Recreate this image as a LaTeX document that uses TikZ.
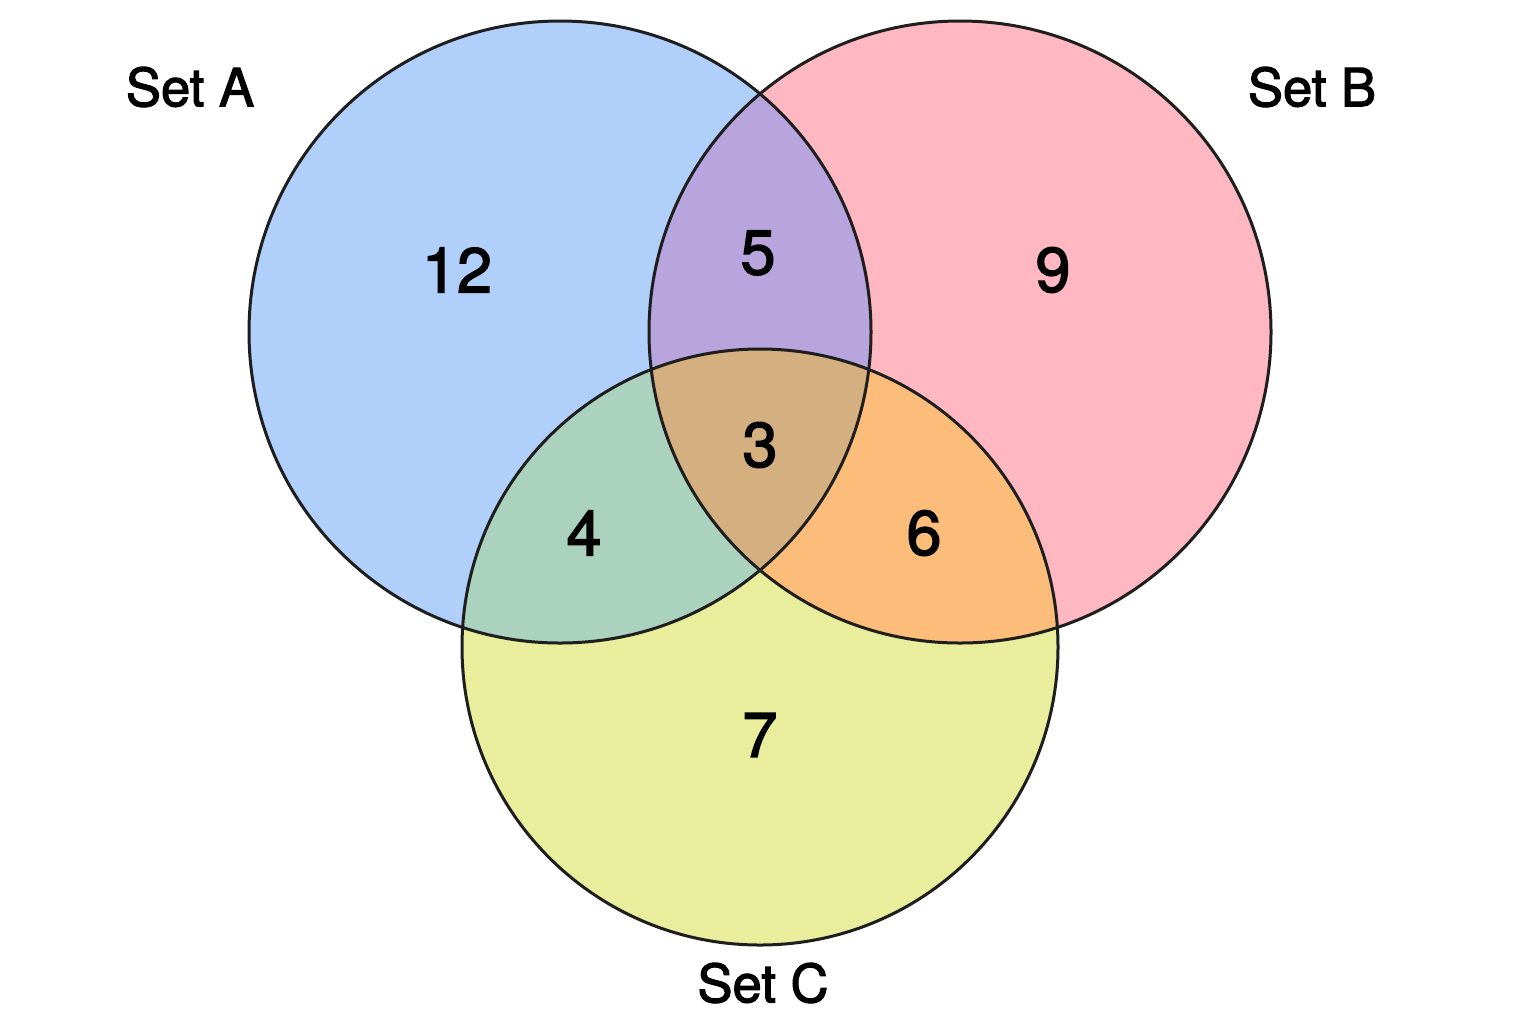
\documentclass[tikz,border=0pt]{standalone}
\usepackage{fontspec}
\setmainfont{TeX Gyre Heros}[FakeBold=2.2]
\definecolor{cA}{RGB}{176,207,250}
\definecolor{cB}{RGB}{255,183,193}
\definecolor{cC}{RGB}{232,238,156}
\definecolor{cAB}{RGB}{185,165,222}
\definecolor{cAC}{RGB}{170,210,190}
\definecolor{cBC}{RGB}{253,189,122}
\definecolor{cABC}{RGB}{212,176,128}
\definecolor{edge}{RGB}{30,30,30}
\begin{document}
\begin{tikzpicture}[x=0.5pt,y=-0.5pt,
  setlabel/.style={font=\fontsize{26.3}{30}\selectfont, text=black},
  numlabel/.style={font=\fontsize{31.5}{36}\selectfont, text=black},
  outline/.style={draw=edge, line width=1.5pt}]
\useasboundingbox[fill=white] (0,0) rectangle (1536,1024);
\def\cA{(560,332) circle[radius=311]}
\def\cB{(960,332) circle[radius=311]}
\def\cC{(760,647) circle[radius=298]}
% base fills
\fill[cA] \cA;
\fill[cB] \cB;
\fill[cC] \cC;
% pairwise
\begin{scope}\clip \cA; \fill[cAB] \cB; \end{scope}
\begin{scope}\clip \cA; \fill[cAC] \cC; \end{scope}
\begin{scope}\clip \cB; \fill[cBC] \cC; \end{scope}
\begin{scope}\clip \cA; \clip \cB; \fill[cABC] \cC; \end{scope}
% outlines
\draw[outline] \cA;
\draw[outline] \cB;
\draw[outline] \cC;
% labels
\node[setlabel] (la) at (190,87) {Set A};
\node[setlabel] (lb) at (1312,87) {Set B};
\node[setlabel] (lc) at (763,983) {Set C};
\node[numlabel] (n12) at (457,270) {12};
\node[numlabel] (n5) at (758,253) {5};
\node[numlabel] (n9) at (1053,270) {9};
\node[numlabel] (n3) at (760,445) {3};
\node[numlabel] (n4) at (584,533) {4};
\node[numlabel] (n6) at (924,533) {6};
\node[numlabel] (n7) at (760,735) {7};
\end{tikzpicture}
\end{document}
